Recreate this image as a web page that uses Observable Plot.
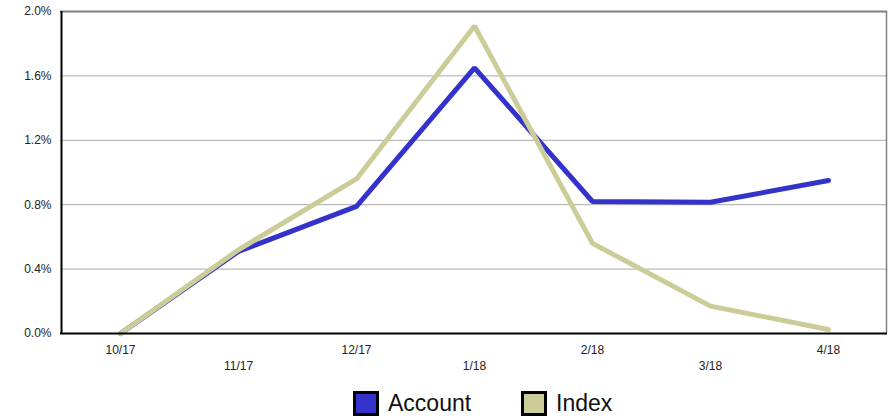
<!DOCTYPE html>
<html>
<head>
<meta charset="utf-8">
<script src="https://cdn.jsdelivr.net/npm/d3@7"></script>
<script src="https://cdn.jsdelivr.net/npm/@observablehq/plot@0.6"></script>
<style>
  html, body { margin: 0; padding: 0; background: #fff; }
  body { width: 890px; height: 417px; overflow: hidden; font-family: "Liberation Sans", Arial, sans-serif; }
  #legend { display: flex; align-items: center; padding-left: 353px; margin-top: 10px; font-size: 23px; color: #111; }
  .item { display: flex; align-items: center; margin-right: 50px; }
  .swatch { width: 20px; height: 19px; border: 3.5px solid #000; margin-right: 9px; }
</style>
</head>
<body>
<div id="chart"></div>
<div id="legend"></div>
<script>
// Monthly returns (percent)
const months = ["10/17", "11/17", "12/17", "1/18", "2/18", "3/18", "4/18"];
const account = [0.0, 0.51, 0.79, 1.65, 0.82, 0.815, 0.95];
const index = [0.0, 0.52, 0.96, 1.91, 0.56, 0.17, 0.025];
const yTicks = [0, 0.4, 0.8, 1.2, 1.6, 2.0];
const seriesNames = ["Account", "Index"];
const seriesColors = ["#3333cc", "#cccc99"];

const rows = [
  ...months.map((m, i) => ({month: m, value: account[i], series: "Account"})),
  ...months.map((m, i) => ({month: m, value: index[i], series: "Index"}))
];

const chart = Plot.plot({
  width: 890,
  height: 380,
  marginTop: 11,
  marginBottom: 47,
  marginLeft: 60,
  marginRight: 3,
  style: {fontFamily: "Liberation Sans, Arial, sans-serif", fontSize: "12px", color: "#222"},
  x: {type: "point", domain: months, padding: 0.5},
  y: {domain: [0, 2.0]},
  color: {domain: seriesNames, range: seriesColors},
  marks: [
    Plot.gridY(yTicks, {stroke: "#aaa", strokeOpacity: 1}),
    Plot.axisY(yTicks, {tickSize: 0, tickPadding: 9, tickFormat: d => d.toFixed(1) + "%", label: null}),
    Plot.axisX(months.filter((d, i) => i % 2 === 0), {tickSize: 0, tickPadding: 12, label: null}),
    Plot.axisX(months.filter((d, i) => i % 2 === 1), {tickSize: 0, tickPadding: 28, label: null}),
    // frame: gray top and right, black left and bottom
    Plot.ruleY([2.0], {stroke: "#808080", strokeWidth: 2}),
    Plot.ruleX([months[months.length - 1]], {stroke: "#808080", strokeWidth: 1.5, dx: 58}),
    Plot.line(rows, {
      x: "month", y: "value", z: "series", stroke: "series",
      strokeWidth: 5, strokeLinejoin: "miter", strokeLinecap: "round"
    }),
    Plot.ruleY([0], {stroke: "#000", strokeWidth: 2}),
    Plot.ruleX([months[0]], {stroke: "#000", strokeWidth: 2, dx: -59})
  ]
});
document.getElementById("chart").appendChild(chart);

const legend = document.getElementById("legend");
seriesNames.forEach((name, i) => {
  const item = document.createElement("div");
  item.className = "item";
  const sw = document.createElement("div");
  sw.className = "swatch";
  sw.style.background = seriesColors[i];
  const label = document.createElement("span");
  label.textContent = name;
  item.appendChild(sw);
  item.appendChild(label);
  legend.appendChild(item);
});
</script>
</body>
</html>
